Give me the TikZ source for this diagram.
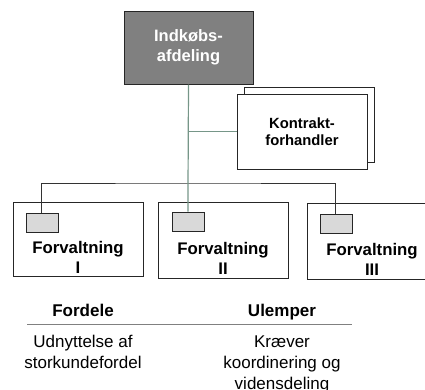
\documentclass[tikz,border=0pt]{standalone}
\usepackage{fontspec}
\setmainfont{Liberation Sans}
\usetikzlibrary{positioning}

\definecolor{linkgreen}{RGB}{118,150,136}
\definecolor{smallgray}{RGB}{217,217,217}

\begin{document}
\begin{tikzpicture} [
        x = 1pt,
        y = -1pt,
        every node/.style = {
          align = center,
          inner sep = 0pt,
        },
        orgbox/.style = {
          draw = black!85,
          line width = 1pt,
          fill = white,
          minimum width = 130pt,
          minimum height = 74pt,
        },
        topbox/.style = {
          orgbox,
          fill = black!50,
          minimum width = 129pt,
          minimum height = 73pt,
          text = white,
          font = \fontsize{16.5}{20}\selectfont\bfseries,
        },
        tagbox/.style = {
          draw = black!85,
          line width = 0.8pt,
          fill = smallgray,
          minimum width = 32pt,
          minimum height = 19pt,
        },
        boxtext/.style = {
          font = \fontsize{16.8}{20}\selectfont\bfseries,
        },
        headtext/.style = {
          anchor = base,
          font = \fontsize{17}{21}\selectfont\bfseries,
        },
        bodytext/.style = {
          anchor = base, % base of the last line
          font = \fontsize{17}{21}\selectfont,
        },
        bus/.style = {
          draw = black!80,
          line width = 1pt,
        },
        link/.style = {
          draw = linkgreen,
          line width = 1.2pt,
        },
      ]
    \useasboundingbox (0,0) rectangle (425,389);

    % boxes
    \node [topbox] (indkob) at (188.5,47.5) {Indkøbs-\\afdeling};

    \node [orgbox, minimum height = 75pt] (kontraktBack) at (309,124.5) {};
    \node [orgbox, minimum height = 75pt, font = \fontsize{14.8}{17}\selectfont\bfseries]
      at ([xshift = -7pt, yshift = -7pt]kontraktBack.center) (kontrakt) {Kontrakt-\\forhandler};

    \node [orgbox] (forvI) at (78,239) {};
    \node [orgbox, minimum height = 76pt] (forvII) at (223,240) {};
    \node [orgbox, minimum height = 76pt] (forvIII) at (372,241) {};

    \node [tagbox, below right = 11pt and 13pt of forvI.north west] (tagI) {};
    \node [tagbox, below right = 10pt and 14pt of forvII.north west] (tagII) {};
    \node [tagbox, below right = 11pt and 13pt of forvIII.north west] (tagIII) {};

    \node [boxtext] at ([yshift = -18pt]forvI.center) (forvItxt) {Forvaltning\\I};
    \node [boxtext] at ([yshift = -18pt]forvII.center) (forvIItxt) {Forvaltning\\II};
    \node [boxtext] at ([yshift = -18pt]forvIII.center) (forvIIItxt) {Forvaltning\\III};

    % connectors
    \coordinate (busMid) at (188,183);
    \draw[bus] (tagI.north) |- (busMid) -| (tagIII.north);
    \draw[link] (indkob.south) -- (tagII.north);
    \draw[link] (kontrakt.west) -- (kontrakt.west -| indkob.south);

    % pros and cons
    \node [headtext] (fordele) at (83,316) {Fordele};
    \node [headtext] (ulemper) at (282,316) {Ulemper};
    \coordinate (ruleL) at (27,324);
    \coordinate (ruleR) at (352,324);
    \draw[black!50, line width = 1pt] (ruleL) -- (ruleR);

    \node [bodytext] at ([yshift = -52pt]fordele.base) (udnyt) {Udnyttelse af\\storkundefordel};
    \node [bodytext] at ([yshift = -73pt]ulemper.base) (kraever) {Kræver\\koordinering og\\vidensdeling};
  \end{tikzpicture}
\end{document}
